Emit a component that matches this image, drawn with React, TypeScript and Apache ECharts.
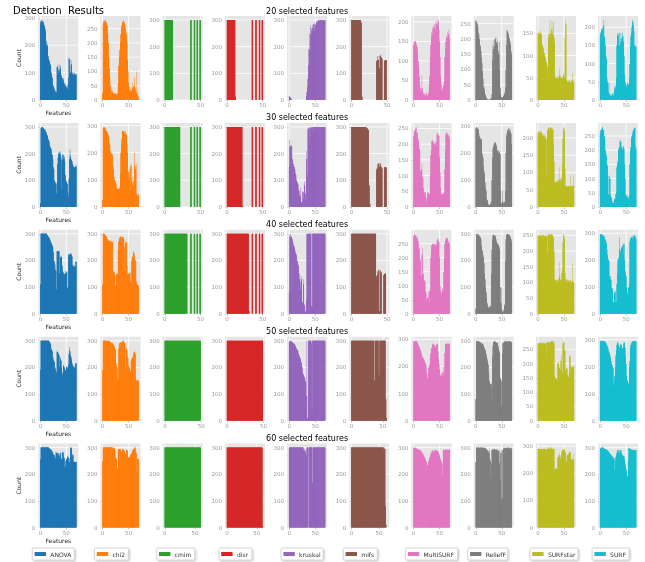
import { useEffect, useRef } from 'react';
import * as echarts from 'echarts';

const METHODS = ['ANOVA', 'chi2', 'cmim', 'disr', 'kruskal', 'mifs', 'MultiSURF', 'ReliefF', 'SURFstar', 'SURF'];
const COLORS = ['#1f77b4', '#ff7f0e', '#2ca02c', '#d62728', '#9467bd', '#8c564b', '#e377c2', '#7f7f7f', '#bcbd22', '#17becf'];
const ROW_TITLES = ['20 selected features', '30 selected features', '40 selected features', '50 selected features', '60 selected features'];
const X_TICKS = [0, 50];

// ---------- 20 selected features ----------
const anova20 = [280,290,288,292,285,290,282,275,270,260, 250,215,200,205,195,160,150,140,145,130, 125,100,90,80,55,50,45,40,35,30, 25,30,120,125,95,110,130,100,115,125, 90,85,80,75,70,80,60,55,50,60, 45,50,40,55,80,155,150,95,100,145, 130,100,90,100,95,90,100,95,90,95];
const chi2_20 = [25,265,275,280,270,278,280,272,268,260, 230,200,150,110,80,50,35,25,40,30, 25,22,20,25,22,20,20,18,20,25, 60,120,150,175,200,230,255,262,270,275, 280,272,270,265,250,240,230,200,140,100, 60,45,30,25,40,35,30,60,40,45, 50,80,45,40,30,25,100,20,15,10];
const cmim20 = [300,300,300,300,300,300,300,300,300,300, 300,300,0,0,0,0,0,0,0,0, 0,0,0,0,0,0,0,0,0,0, 0,0,0,0,0,0,300,300,0,0, 0,300,300,0,0,300,300,0,0,300, 300];
const disr20 = [300,300,300,300,300,300,300,300,300,300, 300,300,12,0,0,0,0,0,0,0, 0,0,0,0,0,0,0,0,0,0, 0,0,0,0,0,300,300,0,0,0, 300,300,0,0,0,300,300,0,0,300, 300];
const kruskal20 = [15,12,8,10,5,3,0,0,0,0, 0,0,0,0,0,0,0,0,0,0, 0,0,0,0,0,0,0,0,0,0, 0,0,0,15,30,50,80,130,190,250, 180,280,245,270,260,280,270,285,290,260, 285,280,290,295,290,295,300,298,295,300, 300,298,300,300,295,300,300,300,298,300];
const mifs20 = [300,300,300,300,300,300,300,300,300,300, 300,300,300,300,290,12,0,0,0,0, 0,0,0,0,0,0,0,0,0,0, 0,0,0,0,0,145,150,165,150,120, 165,170,160,155,0,0,145,150,150,150, 0];
const multisurf20 = [140,150,148,152,150,145,140,135,120,100, 85,60,40,30,20,25,65,30,20,15, 15,12,18,10,15,20,12,10,15,20, 40,60,110,140,160,175,170,185,190,180, 185,195,175,200,195,205,190,200,205,180, 150,110,60,40,25,20,30,40,35,50, 110,130,150,165,160,175,150,170,180,160];
const relieff20 = [262,258,255,250,240,220,215,200,180,175, 160,140,120,95,70,40,45,30,20,15, 10,5,3,2,2,0,0,2,3,5, 5,20,130,180,165,195,175,200,205,185, 190,205,180,160,150,190,100,40,20,10, 8,5,10,12,15,20,25,40,100,180, 230,225,220,215,205,200,190,180,160,150];
const surfstar20 = [150,152,148,150,155,150,145,150,125,120, 118,110,105,100,95,90,85,80,75,50, 140,150,145,180,150,145,160,178,150,145, 175,140,130,50,52,48,50,55,50,52, 48,55,72,50,55,50,48,52,50,60, 55,50,140,180,170,45,42,40,45,40, 42,45,40,38,45,42,45,60,40,42];
const surf20 = [180,185,190,195,200,190,205,220,175,170, 150,120,115,60,50,45,20,50,15,12, 15,10,12,15,20,15,10,25,35,40, 30,60,150,175,185,180,150,185,150,160, 185,170,160,185,175,160,120,70,50,45, 40,35,45,50,40,45,60,100,150,175, 185,200,220,215,205,190,150,150,145,150];

// ---------- 30 selected features ----------
const anova30 = [15,295,298,300,298,300,295,292,290,285, 290,280,275,270,265,255,250,245,230,225, 220,215,200,195,180,150,140,100,95,90, 85,50,90,160,185,200,205,200,210,195, 65,185,175,200,195,180,190,170,120,100, 95,90,85,55,40,105,180,215,190,175, 180,170,160,155,150,150,145,155,150,155];
const chi2_30 = [25,290,295,292,295,290,285,280,282,275, 270,265,260,235,230,205,200,195,200,190, 150,140,110,100,95,90,85,70,65,68, 65,68,65,70,120,200,230,250,280,282, 280,278,275,270,280,265,270,230,200,100, 130,140,110,60,150,160,90,110,80,75, 95,200,150,140,155,45,160,40,50,45];
const cmim30 = [300,300,300,300,300,300,300,300,300,300, 300,300,300,300,300,300,300,300,300,300, 300,300,0,0,0,0,0,0,0,0, 0,0,0,0,0,0,300,300,0,0, 0,300,300,0,0,300,300,0,0,300, 300];
const disr30 = [300,300,300,300,300,300,300,300,300,300, 300,300,300,300,300,300,300,300,300,300, 300,300,5,0,0,0,0,0,0,0, 0,0,0,0,0,300,300,0,0,0, 300,300,0,0,0,300,300,0,0,300, 300];
const kruskal30 = [150,250,225,230,228,232,180,170,160,150, 150,140,125,120,100,95,90,85,65,60, 45,40,70,20,15,18,60,55,30,80, 95,50,20,180,210,120,295,290,300,295, 240,300,295,300,298,300,285,300,300,300, 300,300,300,300,300,300,300,300,300,300, 300,300,300,300,300,300,300,300,300,300];
const mifs30 = [300,300,300,300,300,300,300,300,300,300, 300,300,300,300,300,300,300,300,300,300, 300,298,296,292,288,80,10,0,0,0, 0,0,0,0,0,140,145,160,165,150, 165,160,150,145,0,0,148,150,150,148, 0];
const multisurf30 = [225,240,245,240,250,255,235,238,220,215, 205,185,180,115,110,120,140,95,90,60, 50,45,40,48,30,15,25,50,45,40, 38,42,100,165,180,210,215,205,210,200, 205,200,195,210,205,235,230,238,225,230, 160,110,60,40,42,38,45,40,42,45, 120,180,230,235,238,230,235,225,230,220];
const relieff30 = [290,295,292,290,285,288,270,260,255,250, 252,248,200,190,180,150,130,120,90,70, 60,30,25,20,10,8,5,5,10,15, 20,100,180,215,225,230,240,235,238,230, 225,210,205,200,208,200,205,195,60,10, 15,60,20,15,10,15,20,60,200,260, 270,280,285,288,290,280,285,275,270,230];
const surfstar30 = [215,218,220,215,212,220,218,215,212,205, 210,205,200,210,205,195,200,90,220,225, 232,228,225,230,232,225,228,230,222,225, 180,130,70,68,72,75,70,78,72,80, 75,78,115,80,70,75,85,120,200,232, 228,220,110,60,58,62,60,58,60,62, 60,58,60,92,60,58,62,60,92,60];
const surf30 = [260,270,275,272,280,282,270,268,250,240, 200,190,180,150,145,110,45,40,110,100, 40,35,30,20,15,12,15,25,30,28, 45,50,140,150,160,200,205,210,235,230, 232,210,205,200,210,215,205,150,100,45, 40,35,42,30,25,35,40,150,200,210, 240,250,255,265,270,275,280,278,210,205];

// ---------- 40 selected features ----------
const anova40 = [110,300,300,300,300,300,300,300,300,300, 300,300,300,295,295,290,288,285,280,275, 270,265,260,255,250,230,200,195,185,165, 160,90,235,236,235,234,236,150,215,212, 218,210,180,160,155,150,148,150,160,150, 155,160,95,100,220,225,222,220,225,228, 220,215,180,185,175,180,178,175,195,195];
const chi2_40 = [110,300,300,300,298,295,292,290,288,280, 280,275,274,272,275,270,272,268,275,270, 155,160,158,150,145,103,105,150,148,150, 240,270,280,285,290,288,290,270,290,288, 285,280,250,160,265,270,268,180,150,145, 150,155,150,160,120,115,200,210,215,235, 230,225,205,200,195,120,110,108,110,105];
const cmim40 = [300,300,300,300,300,300,300,300,300,300, 300,300,300,300,300,300,300,300,300,300, 300,300,300,300,300,300,300,300,300,300, 300,300,0,0,0,0,300,300,0,0, 0,300,300,0,0,300,300,0,0,300, 300];
const disr40 = [300,300,300,300,300,300,300,300,300,300, 300,300,300,300,300,300,300,300,300,300, 300,300,300,300,300,300,300,300,300,300, 300,10,0,0,0,300,300,0,0,0, 300,300,0,0,0,300,300,0,0,300, 300];
const kruskal40 = [80,295,290,300,285,290,280,270,260,255, 250,240,230,225,220,200,195,185,180,150, 130,120,90,140,130,45,40,130,110,35, 30,10,5,50,300,300,295,300,300,300, 300,300,300,30,25,300,300,300,300,300, 300,300,300,300,300,300,300,300,300,300, 300,300,300,300,300,300,300,300,300,300];
const mifs40 = [300,300,300,300,300,300,300,300,300,300, 300,300,300,300,300,300,300,300,300,300, 300,300,300,300,300,300,300,300,300,300, 300,300,300,300,300,140,145,160,165,10, 165,160,155,0,0,145,150,150,150,0, 0];
const multisurf40 = [275,280,285,278,280,275,270,275,262,258, 230,235,200,190,140,135,210,235,145,140, 120,118,115,80,75,50,48,55,60,80, 40,80,85,200,230,245,248,250,245,250, 248,245,240,250,245,260,265,270,255,258, 200,100,80,75,70,85,90,75,150,200, 250,260,265,270,272,268,262,255,258,250];
const relieff40 = [20,300,298,296,300,295,298,292,290,285, 280,255,240,235,220,210,190,150,130,100, 80,60,40,30,25,20,25,28,30,20, 150,240,280,295,298,295,290,296,290,280, 270,265,262,260,255,250,240,100,40,100, 20,10,8,5,15,30,35,200,280,295, 300,298,300,296,295,298,290,285,280,270];
const surfstar40 = [250,248,252,250,248,250,245,252,250,248, 250,252,248,250,245,250,248,250,190,250, 252,255,250,255,250,252,255,250,252,248, 240,200,110,105,108,110,100,105,108,100, 112,120,165,105,110,108,130,140,230,255, 250,240,130,110,105,100,108,110,100,105, 108,100,110,105,102,100,160,105,100,100];
const surf40 = [295,298,296,295,292,295,290,292,288,280, 275,270,265,240,220,200,205,195,140,142, 130,125,100,95,90,45,38,70,80,85, 40,45,110,150,200,205,210,285,240,230, 235,245,250,255,220,260,262,200,160,150, 140,100,80,70,95,100,110,270,280,282, 285,288,280,290,285,292,295,290,285,280];

// ---------- 50 selected features ----------
const anova50 = [190,300,300,300,300,300,300,300,300,300, 300,300,300,300,300,300,300,298,295,290, 285,270,265,260,240,230,225,220,200,195, 185,180,262,258,255,250,245,200,240,230, 225,200,180,170,205,210,200,195,190,185, 200,205,195,200,210,250,275,260,245,240, 230,215,210,205,200,195,200,210,215,215];
const chi2_50 = [190,300,300,300,300,300,300,300,298,300, 300,300,298,300,296,295,293,290,290,292, 288,285,280,275,270,262,215,205,200,150, 158,270,285,290,295,292,295,288,300,298, 300,295,290,292,200,275,270,265,240,235, 205,200,195,190,180,225,230,235,240,245, 255,260,258,250,155,150,152,150,150,152];
const cmim50 = [300,300,300,300,300,300,300,300,300,300, 300,300,300,300,300,300,300,300,300,300, 300,300,300,300,300,300,300,300,300,300, 300,300,300,300,300,300,300,300,300,300, 300,300,300,300,300,300,300,300,300,300];
const disr50 = [300,300,300,300,300,300,300,300,300,300, 300,300,300,300,300,300,300,300,300,300, 300,300,300,300,300,300,300,300,300,300, 300,300,300,300,300,300,300,300,300,300, 300,300,300,300,300,300,300,300,300,300];
const kruskal50 = [295,300,298,300,296,300,295,292,290,288, 290,285,280,275,270,268,265,260,250,245, 240,235,230,220,215,200,180,175,170,165, 160,150,140,93,300,10,12,300,300,300, 300,300,300,290,40,300,300,300,300,300, 300,300,300,300,300,300,300,300,300,300, 300,300,300,300,300,300,300,300,300,300];
const mifs50 = [300,300,300,300,300,300,300,300,300,300, 300,300,300,300,300,300,300,300,300,300, 300,300,300,300,300,300,300,300,300,300, 300,300,300,300,300,300,300,150,300,300, 300,300,300,300,170,300,300,300,300,300, 300,300,300,300,300,80,10,0];
const multisurf50 = [292,295,293,295,290,292,295,290,285,280, 275,270,265,262,258,250,240,235,230,228, 225,220,215,210,205,180,150,160,170,200, 195,205,230,250,265,270,280,285,282,278, 280,270,275,268,282,280,285,255,230,210, 190,170,165,175,160,170,180,200,165,170, 250,285,283,285,282,285,284,285,283,285];
const relieff50 = [80,300,298,300,296,298,300,295,292,295, 290,292,288,285,290,280,275,270,265,260, 250,240,230,220,210,180,150,140,138,135, 140,80,240,280,295,298,296,300,295,290, 292,295,290,280,270,260,255,160,158,150, 55,250,290,295,290,300,295,300,298,295, 300,298,296,300,295,298,300,296,295,294];
const surfstar50 = [270,272,268,275,270,272,275,270,268,272, 275,270,272,268,270,275,272,230,275,278, 275,272,262,278,275,280,278,276,275,280, 278,270,155,150,152,148,140,145,200,205, 200,185,180,175,210,230,170,165,270,280, 275,250,245,170,180,185,182,160,155,150, 165,230,225,190,185,190,188,185,190,192];
const surf50 = [295,296,294,295,296,294,295,292,295,293, 290,288,285,280,275,270,260,255,250,240, 230,220,210,205,200,195,130,150,165,200, 240,260,280,288,290,285,275,270,272,285, 282,280,265,268,270,285,290,288,270,240, 210,165,150,145,140,135,200,220,270,280, 285,290,292,295,293,295,294,296,292,295];

// ---------- 60 selected features ----------
const anova60 = [255,300,300,300,300,300,300,300,300,300, 300,300,300,300,300,300,300,298,296,295, 292,290,288,285,280,275,272,270,265,258, 285,280,282,278,280,275,260,270,282,280, 255,258,280,285,282,265,260,225,228,250, 255,258,265,270,262,240,245,260,300,300, 298,275,270,272,248,245,248,246,245,247];
const chi2_60 = [250,300,300,300,300,300,300,300,300,300, 300,300,300,300,300,300,300,300,300,300, 298,296,300,298,290,265,258,255,220,222, 292,295,294,295,296,290,285,286,295,294, 295,290,285,282,275,270,290,292,288,265, 262,265,260,270,275,270,280,285,290,292, 295,296,300,300,285,280,212,258,260,255];
const cmim60 = [300,300,300,300,300,300,300,300,300,300, 300,300,300,300,300,300,300,300,300,300, 300,300,300,300,300,300,300,300,300,300, 300,300,300,300,300,300,300,300,300,300, 300,300,300,300,300,300,300,300,300,300, 300,300,300,300,300,300,300,300,300,300];
const disr60 = [300,300,300,300,300,300,300,300,300,300, 300,300,300,300,300,300,300,300,300,300, 300,300,300,300,300,300,300,300,300,300, 300,300,300,300,300,300,300,300,300,300, 300,300,300,300,300,300,300,300,300,300, 300,300,300,300,300,300,300,300,300,300, 6];
const kruskal60 = [300,300,300,300,300,300,300,300,300,300, 300,300,300,300,300,300,300,300,300,300, 300,300,300,300,300,300,300,300,290,295, 285,290,280,270,300,300,300,0,300,300, 300,300,300,300,300,167,300,300,300,300, 300,300,300,300,300,300,300,300,300,300, 300,300,300,300,300,300,300,300,300,300];
const mifs60 = [300,300,300,300,300,300,300,300,300,300, 300,300,300,300,300,300,300,300,300,300, 300,300,300,300,300,300,300,300,300,300, 300,300,300,300,300,300,300,300,300,300, 300,300,300,300,300,300,300,300,300,300, 300,300,300,300,300,300,300,300,300,290, 300,295,80,10,0,0];
const multisurf60 = [300,298,300,299,298,296,298,295,292,294, 295,290,292,288,290,285,280,282,278,270, 268,265,260,255,250,245,235,230,240,250, 255,262,270,275,280,285,288,290,285,280, 290,288,292,290,285,290,288,285,280,275, 270,260,255,250,245,240,195,290,292,290, 292,290,293,292,290,293,292,290,292,293];
const relieff60 = [245,300,300,298,300,300,299,300,298,300, 300,298,300,300,299,298,300,296,298,300, 295,292,290,288,285,280,290,260,250,185, 240,290,292,295,290,296,295,290,292,295, 290,295,290,288,285,240,290,180,280,290, 105,110,290,295,300,298,300,296,300,298, 300,298,300,300,298,296,300,298,300,296];
const surfstar60 = [290,292,288,290,292,290,288,292,280,290, 292,290,288,292,290,288,290,270,292,290, 295,292,290,295,292,290,295,292,290,288, 292,290,215,218,215,220,215,218,260,270, 255,275,265,250,260,270,280,285,288,290, 285,292,280,275,240,245,265,270,268,275, 270,280,278,275,250,255,248,252,270,250];
const surf60 = [295,300,298,300,300,299,300,298,296,295, 295,293,292,290,290,288,285,282,280,278, 275,272,270,268,265,260,262,258,215,250, 265,270,280,290,292,288,280,278,290,292, 290,280,275,270,265,270,268,255,240,230, 220,210,195,190,250,300,298,296,295,292, 295,292,290,293,290,292,290,288,290,292];

const DATA = [
  [anova20, chi2_20, cmim20, disr20, kruskal20, mifs20, multisurf20, relieff20, surfstar20, surf20],
  [anova30, chi2_30, cmim30, disr30, kruskal30, mifs30, multisurf30, relieff30, surfstar30, surf30],
  [anova40, chi2_40, cmim40, disr40, kruskal40, mifs40, multisurf40, relieff40, surfstar40, surf40],
  [anova50, chi2_50, cmim50, disr50, kruskal50, mifs50, multisurf50, relieff50, surfstar50, surf50],
  [anova60, chi2_60, cmim60, disr60, kruskal60, mifs60, multisurf60, relieff60, surfstar60, surf60],
];

const FONT = 'DejaVu Sans';
const COL_LEFT = 38.3;
const COL_STEP = 62.2;
const PANEL_W = 40;
const ROW_TOP = 16;
const ROW_STEP = 106.9;
const PANEL_H = 84;
const LEGEND_W = [42, 34, 38, 33, 42, 34, 52, 40, 48, 37];

export default function App() {
  const ref = useRef<HTMLDivElement>(null);
  useEffect(() => {
    const chart = echarts.init(ref.current!, null, { renderer: 'svg' });
    const grid: any[] = [];
    const xAxis: any[] = [];
    const yAxis: any[] = [];
    const series: any[] = [];
    const elements: any[] = [];

    DATA.forEach((row, r) => {
      const top = ROW_TOP + r * ROW_STEP;
      row.forEach((vals, c) => {
        const idx = r * 10 + c;
        const left = COL_LEFT + c * COL_STEP;
        const n = vals.length;
        const xmin = -0.5 - 0.05 * n;
        const xmax = n - 0.5 + 0.05 * n;
        const ymax = Math.max(...vals) * 1.05;
        const step = ymax >= 300 ? 100 : 50;
        const yTicks: number[] = [];
        for (let v = 0; v <= ymax; v += step) yTicks.push(v);
        const color = COLORS[c];

        grid.push({ left, top, width: PANEL_W, height: PANEL_H, show: true, backgroundColor: '#E5E5E5', borderWidth: 0, containLabel: false });
        xAxis.push({
          gridIndex: idx, type: 'value', min: xmin, max: xmax,
          axisLine: { show: false }, splitLine: { show: false },
          axisTick: { show: true, customValues: X_TICKS, length: 2, lineStyle: { color: '#999', width: 0.6 } },
          axisLabel: { show: true, customValues: X_TICKS, fontSize: 5.5, color: '#999', margin: 2, fontFamily: FONT },
        });
        yAxis.push({
          gridIndex: idx, type: 'value', min: 0, max: ymax,
          axisLine: { show: false }, splitLine: { show: false },
          axisTick: { show: true, customValues: yTicks, length: 2, lineStyle: { color: '#999', width: 0.6 } },
          axisLabel: { show: true, customValues: yTicks, fontSize: 5.5, color: '#999', margin: 3, fontFamily: FONT },
        });
        series.push({
          type: 'custom', xAxisIndex: idx, yAxisIndex: idx, z: 1, silent: true,
          data: [[0, 0]],
          renderItem: (_p: any, api: any) => {
            const children: any[] = [];
            yTicks.forEach((v) => {
              const a = api.coord([xmin, v]);
              const b = api.coord([xmax, v]);
              children.push({ type: 'line', shape: { x1: a[0], y1: a[1], x2: b[0], y2: b[1] }, style: { stroke: '#ffffff', lineWidth: 0.8 } });
            });
            X_TICKS.forEach((v) => {
              const a = api.coord([v, 0]);
              const b = api.coord([v, ymax]);
              children.push({ type: 'line', shape: { x1: a[0], y1: a[1], x2: b[0], y2: b[1] }, style: { stroke: '#ffffff', lineWidth: 0.8 } });
            });
            return { type: 'group', children };
          },
        });
        series.push({
          type: 'custom', xAxisIndex: idx, yAxisIndex: idx, z: 2, silent: true,
          data: vals.map((v, i) => [i, v]),
          encode: { x: 0, y: 1 },
          renderItem: (p: any, api: any) => {
            const x = api.value(0);
            const v = api.value(1);
            if (!(v > 0)) return null;
            const i = p.dataIndex;
            const next = i + 1 < n ? vals[i + 1] : 0;
            const a = api.coord([x - 0.5, v]);
            const b = api.coord([x + 0.5, 0]);
            const children: any[] = [
              { type: 'rect', shape: { x: a[0], y: a[1], width: b[0] - a[0], height: b[1] - a[1] }, style: { fill: color } },
            ];
            const m = Math.min(v, next);
            if (m > 0) {
              const cpt = api.coord([x + 0.5, m]);
              children.push({ type: 'rect', shape: { x: cpt[0] - 0.5, y: cpt[1], width: 1.1, height: b[1] - cpt[1] }, style: { fill: color } });
            }
            return { type: 'group', children };
          },
        });
      });

      elements.push({
        type: 'text', x: COL_LEFT + 4 * COL_STEP + PANEL_W / 2, y: top - 5,
        style: { text: ROW_TITLES[r], fontSize: 8, fontFamily: FONT, fill: '#000', align: 'center', verticalAlign: 'middle', textAlign: 'center', textVerticalAlign: 'middle' },
      });
      elements.push({
        type: 'text', x: 18, y: top + PANEL_H / 2, rotation: Math.PI / 2,
        style: { text: 'Count', fontSize: 6, fontFamily: FONT, fill: '#222', align: 'center', verticalAlign: 'middle', textAlign: 'center', textVerticalAlign: 'middle' },
      });
      elements.push({
        type: 'text', x: COL_LEFT + PANEL_W / 2, y: top + PANEL_H + 12.5,
        style: { text: 'Features', fontSize: 6, fontFamily: FONT, fill: '#222', align: 'center', verticalAlign: 'middle', textAlign: 'center', textVerticalAlign: 'middle' },
      });
    });

    elements.push({
      type: 'text', x: 13, y: 10,
      style: { text: 'Detection  Results', fontSize: 10, fontFamily: FONT, fill: '#000', align: 'left', verticalAlign: 'middle', textAlign: 'left', textVerticalAlign: 'middle' },
    });

    METHODS.forEach((m, c) => {
      const bx = COL_LEFT + c * COL_STEP - 6;
      elements.push({
        type: 'group', x: bx, y: 548,
        children: [
          { type: 'rect', shape: { x: 0, y: 0, width: LEGEND_W[c], height: 12, r: 1.5 }, style: { fill: '#ffffff', stroke: '#cccccc', lineWidth: 0.8, shadowBlur: 2, shadowColor: 'rgba(0,0,0,0.25)', shadowOffsetX: 1, shadowOffsetY: 1 } },
          { type: 'rect', shape: { x: 2.3, y: 4, width: 11.4, height: 4 }, style: { fill: COLORS[c] } },
          { type: 'text', x: 18, y: 6, style: { text: m, fontSize: 6, fontFamily: FONT, fill: '#333', align: 'left', verticalAlign: 'middle', textAlign: 'left', textVerticalAlign: 'middle' } },
        ],
      });
    });

    chart.setOption({
      animation: false,
      grid, xAxis, yAxis, series,
      graphic: { elements },
    });
    return () => chart.dispose();
  }, []);
  return <div ref={ref} style={{ position: 'fixed', left: 0, top: 0, width: 645, height: 562 }} />;
}
